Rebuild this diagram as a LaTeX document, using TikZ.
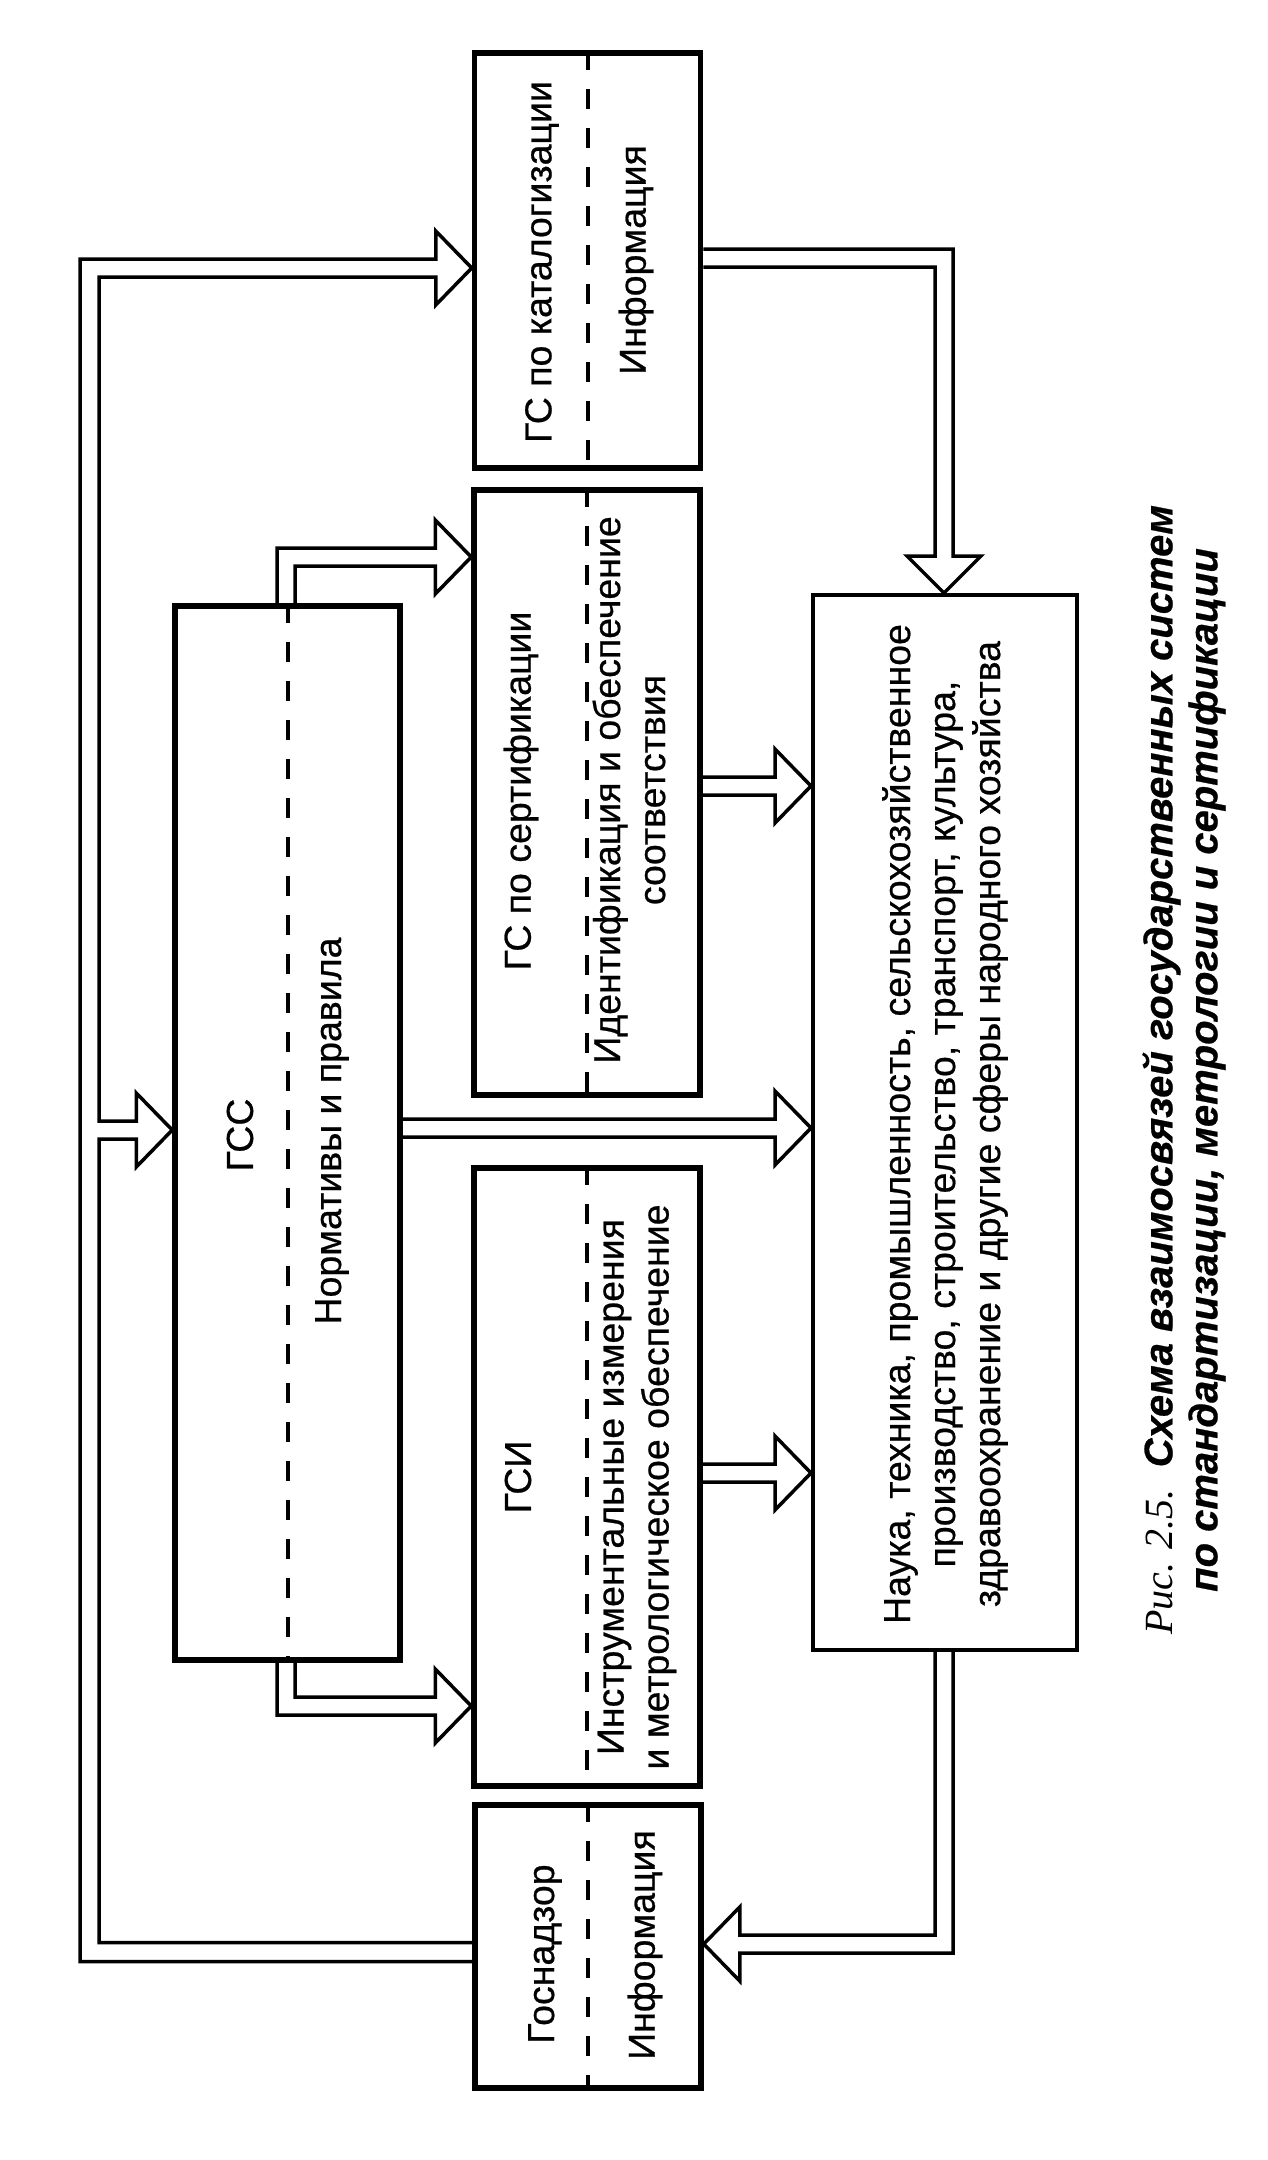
\documentclass[tikz,border=0pt]{standalone}
\usepackage{fontspec}
\setmainfont{Liberation Sans}[FakeBold=0.6]
\newfontfamily\serifcap{Liberation Serif}
\usetikzlibrary{calc}

\tikzset{
  sysbox/.style={draw, line width=5.5pt, minimum width=226pt, inner sep=0pt},
  boxtext/.style={rotate=90, align=center, inner sep=0pt, font=\fontsize{37.5}{45}\selectfont},
  divider/.style={line width=4pt, dash pattern=on 20pt off 19pt},
  flow/.style={line width=3.5pt, line join=miter},
}

\newcommand{\flowright}[3]{%
  \draw[flow] let \p1=(#1.east), \p2=(#2.west), \p3=(0,#3) in
    (\x1,\y3+9pt) -- (\x2-36pt,\y3+9pt) -- (\x2-36pt,\y3+37pt) -- (\x2,\y3)
    -- (\x2-36pt,\y3-37pt) -- (\x2-36pt,\y3-9pt) -- (\x1,\y3-9pt);}

\begin{document}
\begin{tikzpicture}[x=1pt,y=-1pt]
\useasboundingbox (0,0) rectangle (1267,2160);

\node[sysbox, minimum height=415pt] (katal) at (587.5,260.5) {};
\node[sysbox, minimum height=605pt] (sert) at (587,792.5) {};
\node[sysbox, minimum height=618pt] (gsi) at (587,1477) {};
\node[sysbox, minimum height=283pt] (nadzor) at (588,1946.5) {};
\node[sysbox, minimum width=225pt, minimum height=1054pt] (gss) at (287.5,1133) {};
\node[draw, line width=4pt, minimum width=264pt, minimum height=1055pt] (nauka) at (945,1122.5) {};

\foreach \b in {katal,sert,gsi,nadzor,gss}
  \draw[divider] (\b.north) -- (\b.south);

\node[boxtext] (katalname) at (542,262) {ГС по каталогизации};
\node[boxtext] (katalinfo) at (636,260) {Информация};
\node[boxtext] (sertname) at (521,791) {ГС по сертификации};
\node[boxtext] (sertinfo) at (629,790) {Идентификация и обеспечение\\соответствия};
\node[boxtext] (gsiname) at (518,1477) {ГСИ};
\node[boxtext] (gsiinfo) at (637,1487) {Инструментальные измерения\\и метрологическое обеспечение};
\node[boxtext] (nadzorname) at (545,1954) {Госнадзор};
\node[boxtext] (nadzorinfo) at (645,1945) {Информация};
\node[boxtext] (gssname) at (240,1135) {ГСС};
\node[boxtext] (gssinfo) at (332,1131) {Нормативы и правила};
\node[boxtext] (naukatext) at (945,1124) {Наука, техника, промышленность, сельскохозяйственное\\производство, строительство, транспорт, культура,\\здравоохранение и другие сферы народного хозяйства};
\node[boxtext, font=\fontsize{40}{45}\selectfont\bfseries\itshape] (caption) at (1184,1070)
  {{\serifcap\mdseries Рис. 2.5.}\ \ Схема взаимосвязей государственных систем\\по стандартизации, метрологии и сертификации};

\flowright{sert}{nauka}{786}
\flowright{gss}{nauka}{1128}
\flowright{gsi}{nauka}{1473}

\draw[flow] let \p1=(katal.east), \p2=(nauka.north), \p3=(944,258) in
  (\x1,\y3+9pt) -- (\x3+9pt,\y3+9pt) -- (\x3+9pt,\y2+37pt) -- (\x3+37pt,\y2+37pt) -- (\x3,\y2)
  -- (\x3-37pt,\y2+37pt) -- (\x3-9pt,\y2+37pt) -- (\x3-9pt,\y3-9pt) -- (\x1,\y3-9pt);

\draw[flow] let \p1=(gss.north), \p2=(sert.west), \p3=(286,557) in
  (\x3-9pt,\y1) -- (\x3-9pt,\y3+9pt) -- (\x2-36pt,\y3+9pt) -- (\x2-36pt,\y3+37pt) -- (\x2,\y3)
  -- (\x2-36pt,\y3-37pt) -- (\x2-36pt,\y3-9pt) -- (\x3+9pt,\y3-9pt) -- (\x3+9pt,\y1);

\draw[flow] let \p1=(gss.south), \p2=(gsi.west), \p3=(286,1706) in
  (\x3-9pt,\y1) -- (\x3-9pt,\y3-9pt) -- (\x2-36pt,\y3-9pt) -- (\x2-36pt,\y3-37pt) -- (\x2,\y3)
  -- (\x2-36pt,\y3+37pt) -- (\x2-36pt,\y3+9pt) -- (\x3+9pt,\y3+9pt) -- (\x3+9pt,\y1);

\draw[flow] let \p1=(nauka.south), \p2=(nadzor.east), \p3=(944,1944) in
  (\x3-9pt,\y1) -- (\x3-9pt,\y3+9pt) -- (\x2+36pt,\y3+9pt) -- (\x2+36pt,\y3+37pt) -- (\x2,\y3)
  -- (\x2+36pt,\y3-37pt) -- (\x2+36pt,\y3-9pt) -- (\x3+9pt,\y3-9pt) -- (\x3+9pt,\y1);

\draw[flow] let \p1=(nadzor.west), \p2=(katal.west), \p3=(gss.west),
    \p4=(89.5,1952), \p5=(0,268), \p6=(0,1130) in
  (\x1,\y4-9.5pt) -- (\x4-9.5pt,\y4-9.5pt) -- (\x4-9.5pt,\y5+9pt)
  -- (\x2-36pt,\y5+9pt) -- (\x2-36pt,\y5+37pt) -- (\x2,\y5)
  -- (\x2-36pt,\y5-37pt) -- (\x2-36pt,\y5-9pt)
  -- (\x4+9.5pt,\y5-9pt) -- (\x4+9.5pt,\y6+9pt)
  -- (\x3-36pt,\y6+9pt) -- (\x3-36pt,\y6+37pt) -- (\x3,\y6)
  -- (\x3-36pt,\y6-37pt) -- (\x3-36pt,\y6-9pt)
  -- (\x4+9.5pt,\y6-9pt) -- (\x4+9.5pt,\y4+9.5pt) -- (\x1,\y4+9.5pt);
\end{tikzpicture}
\end{document}
